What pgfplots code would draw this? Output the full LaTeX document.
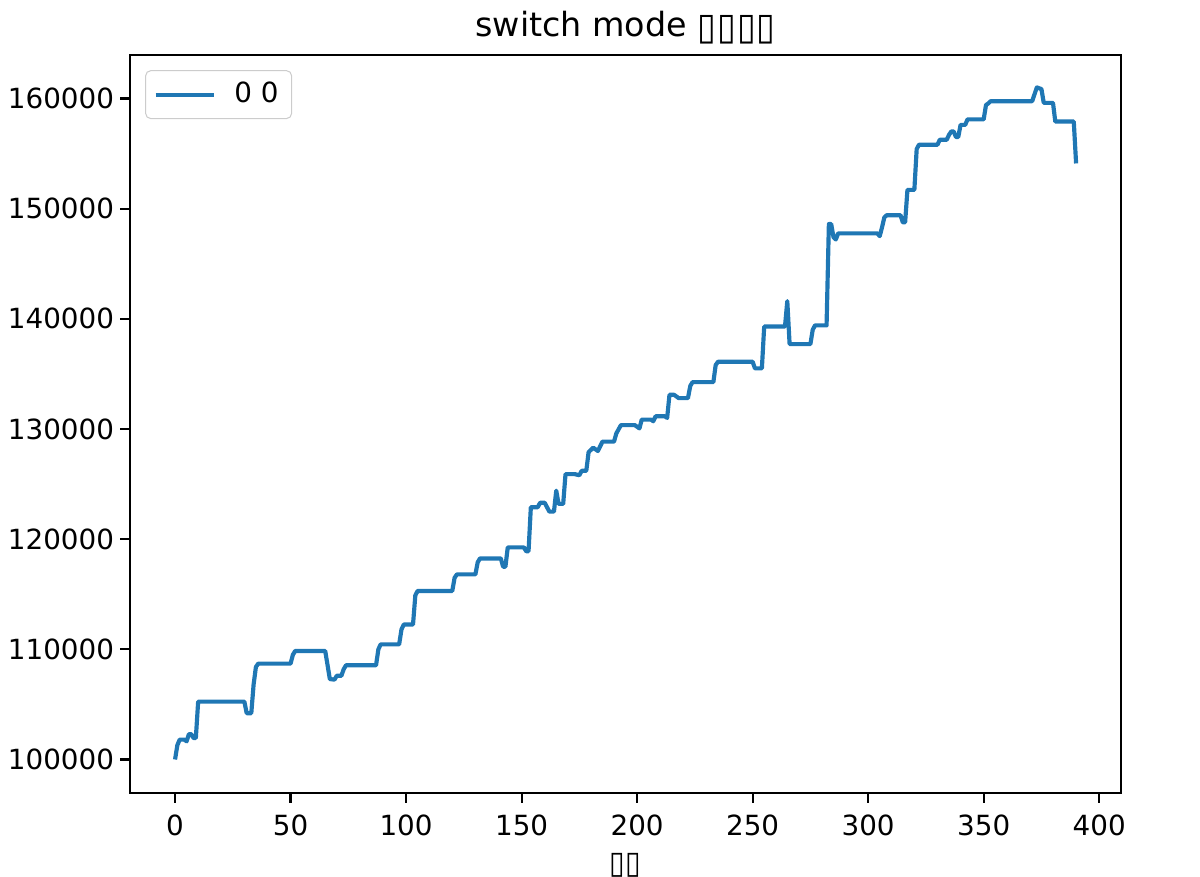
\documentclass[border=0pt]{standalone}
\usepackage{graphicx}
\usepackage{fontspec}
\setmainfont{DejaVu Sans}
\usepackage{pgfplots}
\pgfplotsset{compat=1.18}
\definecolor{mplblue}{HTML}{1F77B4}
\newcommand\tofuT{\raisebox{-1.2pt}{\resizebox*{7.2pt}{11pt}{▯}}\hspace{0.4pt}}
\newcommand\tofuX{\raisebox{-1pt}{\resizebox*{6pt}{9.2pt}{▯}}\hspace{0.3pt}}
\begin{document}
\begin{tikzpicture}
\useasboundingbox (0,0) rectangle (460.8pt,336.4pt);
\begin{axis}[
  at={(49.92pt,31.87pt)}, anchor=south west,
  scale only axis, width=380.6pt, height=283.4pt,
  xmin=-19.5, xmax=409.5, ymin=96955, ymax=163942,
  xtick={0,50,...,400},
  ytick={100000,110000,...,160000},
  scaled y ticks=false,
  /pgf/number format/assume math mode=true,
  y tick label style={/pgf/number format/fixed,/pgf/number format/1000 sep={}, inner xsep=0pt, xshift=-2.2pt},
  x tick label style={yshift=-1.2pt},
  tick label style={font=\fontsize{10.67}{12.8}\selectfont},
  tick align=outside,
  major tick length=3.73pt,
  every tick/.style={black, line width=0.85pt},
  axis line style={line width=0.85pt},
  xtick pos=bottom, ytick pos=left,
  title={switch mode \tofuT\tofuT\tofuT\tofuT},
  title style={font=\fontsize{12.8}{15}\selectfont, at={(0.5,1)}, anchor=base, yshift=1.1pt, inner sep=0pt},
  xlabel={\tofuX\tofuX},
  xlabel style={font=\fontsize{10.67}{12.8}\selectfont, at={(0.5,0)}, anchor=north, yshift=-23pt, inner sep=0pt},
  legend style={at={(0,1)}, anchor=north west, xshift=5.8pt, yshift=-5.8pt,
    draw=black!20, rounded corners=2pt, font=\fontsize{10.67}{12.8}\selectfont,
    inner xsep=3pt, inner ysep=2.5pt},
  legend cell align=left,
  legend image code/.code={\draw[#1] (0pt,0pt) -- (22.5pt,0pt);},
]
\addplot[mplblue, line width=1.6pt, line join=round] coordinates {
(0,100000)(1,101300)(2,101800)(4,101800)(5,101650)(6,102300)(7,102300)(8,101950)(9,101950)
(10,105250)(30,105250)(31,104200)(33,104200)(34,106800)(35,108400)(36,108700)(50,108700)
(51,109500)(52,109850)(65,109850)(67,107300)(69,107250)(70,107600)(72,107600)(73,108200)
(74,108550)(87,108550)(88,110000)(89,110450)(97,110450)(98,111800)(99,112250)(103,112250)
(104,114900)(105,115300)(120,115300)(121,116500)(122,116800)(130,116800)(131,117900)
(132,118250)(141,118250)(142,117500)(143,117500)(144,119250)(151,119250)(152,118900)
(153,118900)(154,122900)(157,122900)(158,123300)(160,123300)(162,122500)(164,122500)
(165,124400)(166,123200)(168,123200)(169,125900)(173,125900)(175,125800)(176,126200)
(178,126200)(179,127900)(181,128300)(183,128000)(185,128850)(190,128850)(191,129600)
(193,130350)(199,130350)(201,130050)(202,130850)(206,130850)(207,130700)(208,131150)
(212,131150)(213,131000)(214,133100)(216,133100)(218,132800)(222,132800)(223,133900)
(224,134250)(233,134250)(234,135800)(235,136100)(250,136100)(251,135500)(254,135500)
(255,139300)(264,139300)(265,141600)(266,137700)(275,137700)(276,139000)(277,139400)
(282,139400)(283,148600)(284,148600)(285,147400)(286,147200)(287,147750)(304,147750)
(305,147500)(306,148300)(307,149200)(308,149400)(314,149400)(315,148750)(316,148750)
(317,151700)(320,151700)(321,155400)(322,155800)(330,155800)(331,156250)(334,156250)
(335,156700)(336,157000)(337,157000)(338,156500)(339,156500)(340,157600)(342,157600)
(343,158100)(350,158100)(351,159400)(352,159550)(353,159750)(371,159750)(373,161000)
(375,160850)(376,159600)(380,159600)(381,157900)(389,157900)(390,154100)
};
\addlegendentry{\hspace{5pt}0 0}
\end{axis}
\end{tikzpicture}
\end{document}
